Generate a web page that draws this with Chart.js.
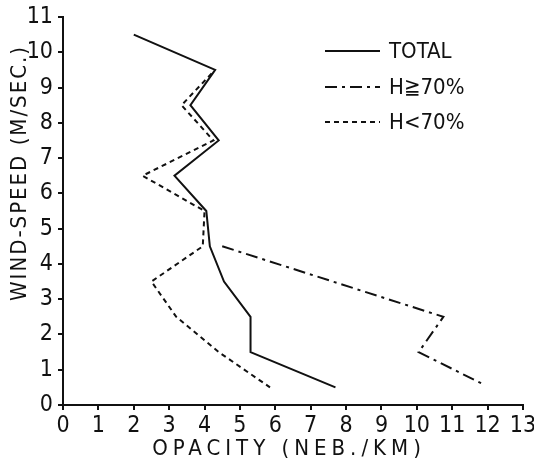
<!DOCTYPE html>
<html>
<head>
<meta charset="utf-8">
<script src="https://cdn.jsdelivr.net/npm/chart.js@4.4.1/dist/chart.umd.min.js"></script>
<style>
html,body{margin:0;padding:0;background:#fff;}
#wrap{width:534px;height:464px;}
</style>
</head>
<body>
<div id="wrap"><canvas id="c" width="534" height="464"></canvas></div>
<script>
// Data
const totalX = [2.0, 4.3, 3.6, 4.4, 3.15, 4.05, 4.15, 4.55, 5.3, 5.3, 7.7];
const totalY = [10.5, 9.5, 8.5, 7.5, 6.5, 5.5, 4.5, 3.5, 2.5, 1.5, 0.5];
const highX = [4.5, 10.75, 10.05, 11.85];
const highY = [4.5, 2.5, 1.5, 0.6];
const lowX = [4.2, 3.35, 4.25, 2.25, 4.0, 3.95, 2.5, 3.2, 4.4, 5.85];
const lowY = [9.4, 8.5, 7.5, 6.5, 5.5, 4.5, 3.5, 2.5, 1.5, 0.5];
const seriesNames = ['TOTAL', 'H\u226770%', 'H<70%'];
const xTitle = 'OPACITY (NEB./KM)';
const yTitle = 'WIND-SPEED (M/SEC.)';

const INK = '#111';
const FONT = "'DejaVu Sans Condensed', 'DejaVu Sans', sans-serif";
const pts = (xs, ys) => xs.map((x, i) => ({x: x, y: ys[i]}));
const dashes = [[], [12, 5, 3, 5], [5, 4]];

const decor = {
  id: 'decor',
  afterDraw(chart) {
    const ctx = chart.ctx;
    const a = chart.chartArea;
    ctx.save();
    ctx.fillStyle = INK;
    ctx.strokeStyle = INK;
    // axis titles
    ctx.font = '22px ' + FONT;
    ctx.letterSpacing = '5px';
    ctx.textAlign = 'center';
    ctx.textBaseline = 'middle';
    ctx.fillText(xTitle, (a.left + a.right) / 2 - 4, 449);
    ctx.save();
    ctx.translate(20, 173);
    ctx.rotate(-Math.PI / 2);
    ctx.letterSpacing = '2px';
    ctx.fillText(yTitle, 0, 0);
    ctx.restore();
    // legend
    ctx.letterSpacing = '0px';
    ctx.textAlign = 'left';
    ctx.font = '22px ' + FONT;
    const rows = [51, 87, 122];
    chart.data.datasets.forEach((ds, i) => {
      const y = rows[i];
      ctx.lineWidth = 2;
      ctx.setLineDash(ds.borderDash || []);
      ctx.beginPath();
      ctx.moveTo(325, y);
      ctx.lineTo(380, y);
      ctx.stroke();
      ctx.setLineDash([]);
      ctx.fillText(ds.label, 389, y + 1);
    });
    ctx.restore();
  }
};

new Chart(document.getElementById('c'), {
  type: 'scatter',
  data: {
    datasets: [
      {label: seriesNames[0], data: pts(totalX, totalY), borderDash: dashes[0]},
      {label: seriesNames[1], data: pts(highX, highY), borderDash: dashes[1]},
      {label: seriesNames[2], data: pts(lowX, lowY), borderDash: dashes[2]}
    ].map(d => Object.assign(d, {
      showLine: true, borderColor: INK, backgroundColor: INK, borderWidth: 2,
      pointRadius: 0, tension: 0, fill: false
    }))
  },
  options: {
    responsive: false,
    animation: false,
    layout: {padding: {top: 17, right: 11, left: 0, bottom: 0}},
    plugins: {legend: {display: false}, tooltip: {enabled: false}},
    scales: {
      x: {
        type: 'linear', min: 0, max: 13,
        afterFit: s => { s.height = 59; s.paddingRight = 0; s.paddingLeft = 0; },
        ticks: {stepSize: 1, color: INK, padding: 2, maxRotation: 0, font: {family: FONT, size: 23}},
        grid: {drawOnChartArea: false, drawTicks: true, tickLength: 5, color: INK, lineWidth: 2},
        border: {display: true, color: INK, width: 2}
      },
      y: {
        type: 'linear', min: 0, max: 11,
        afterFit: s => { s.width = 63; s.paddingTop = 0; s.paddingBottom = 0; },
        ticks: {stepSize: 1, color: INK, padding: 5, font: {family: FONT, size: 23}},
        grid: {drawOnChartArea: false, drawTicks: true, tickLength: 5, color: INK, lineWidth: 2},
        border: {display: true, color: INK, width: 2}
      }
    }
  },
  plugins: [decor]
});
</script>
</body>
</html>
